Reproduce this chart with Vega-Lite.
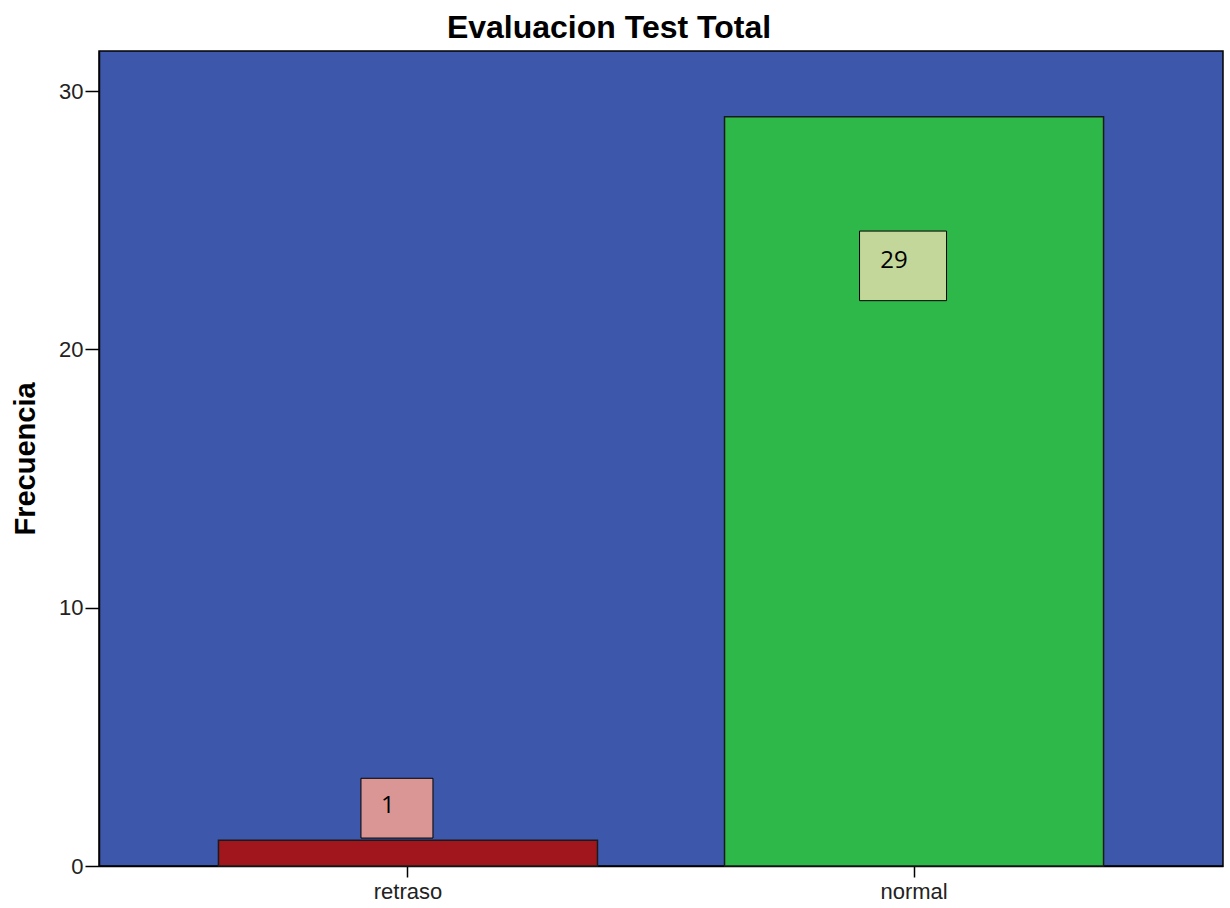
{
  "$schema": "https://vega.github.io/schema/vega-lite/v6.json",
  "width": 1124,
  "height": 815,
  "autosize": {"type": "none"},
  "padding": {"left": 99, "top": 51, "right": 7, "bottom": 42},
  "background": "white",
  "title": {
    "text": "Evaluacion Test Total",
    "font": "Liberation Sans",
    "fontSize": 32,
    "fontWeight": "bold",
    "color": "black",
    "anchor": "middle",
    "dx": -52,
    "offset": 6
  },
  "config": {
    "view": {"fill": "#3D58AA", "stroke": "black", "strokeWidth": 1.5}
  },
  "data": {
    "values": [
      {"categoria": "retraso", "frecuencia": 1},
      {"categoria": "normal", "frecuencia": 29}
    ]
  },
  "encoding": {
    "x": {
      "field": "categoria",
      "type": "nominal",
      "sort": ["retraso", "normal"],
      "scale": {"paddingInner": 0.251, "paddingOuter": 0.236},
      "axis": {
        "title": null,
        "labelAngle": 0,
        "labelFont": "Liberation Sans",
        "labelFontSize": 22,
        "labelColor": "#222222",
        "labelPadding": 4,
        "tickSize": 11,
        "tickColor": "black",
        "tickWidth": 1.5,
        "domainColor": "black",
        "domainWidth": 1.5
      }
    },
    "y": {
      "field": "frecuencia",
      "type": "quantitative",
      "scale": {"domain": [0, 31.55], "nice": false},
      "axis": {
        "title": "Frecuencia",
        "titleFont": "Liberation Sans",
        "titleFontSize": 29,
        "titleFontWeight": "bold",
        "titleColor": "black",
        "titlePadding": 18,
        "values": [0, 10, 20, 30],
        "grid": false,
        "labelFont": "Liberation Sans",
        "labelFontSize": 22,
        "labelColor": "#222222",
        "labelPadding": 2,
        "tickSize": 14,
        "tickColor": "black",
        "tickWidth": 1.5,
        "domainColor": "black",
        "domainWidth": 1.5
      }
    }
  },
  "layer": [
    {
      "mark": {"type": "bar", "stroke": "#1a1a1a", "strokeWidth": 1.5},
      "encoding": {
        "color": {
          "field": "categoria",
          "type": "nominal",
          "scale": {"domain": ["retraso", "normal"], "range": ["#A0161C", "#2EB84A"]},
          "legend": null
        }
      }
    },
    {
      "transform": [{"filter": "datum.categoria === 'retraso'"}],
      "mark": {
        "type": "point",
        "shape": "M-1,-0.83L1,-0.83L1,0.83L-1,0.83Z",
        "size": 5184,
        "filled": true,
        "fill": "#DA9694",
        "stroke": "black",
        "strokeWidth": 1,
        "opacity": 1,
        "fillOpacity": 1,
        "xOffset": -11,
        "yOffset": -32
      }
    },
    {
      "transform": [{"filter": "datum.categoria === 'retraso'"}],
      "mark": {
        "type": "text",
        "font": "Open Sans",
        "fontSize": 24,
        "color": "black",
        "align": "center",
        "baseline": "middle",
        "xOffset": -20,
        "yOffset": -34
      },
      "encoding": {"text": {"field": "frecuencia", "type": "quantitative"}}
    },
    {
      "transform": [{"filter": "datum.categoria === 'normal'"}],
      "mark": {
        "type": "point",
        "shape": "M-1,-0.8L1,-0.8L1,0.8L-1,0.8Z",
        "size": 7569,
        "filled": true,
        "fill": "#C4D79B",
        "stroke": "black",
        "strokeWidth": 1,
        "opacity": 1,
        "fillOpacity": 1,
        "xOffset": -11,
        "yOffset": 149
      }
    },
    {
      "transform": [{"filter": "datum.categoria === 'normal'"}],
      "mark": {
        "type": "text",
        "font": "Open Sans",
        "fontSize": 24,
        "color": "black",
        "align": "center",
        "baseline": "middle",
        "xOffset": -20,
        "yOffset": 144
      },
      "encoding": {"text": {"field": "frecuencia", "type": "quantitative"}}
    }
  ]
}
